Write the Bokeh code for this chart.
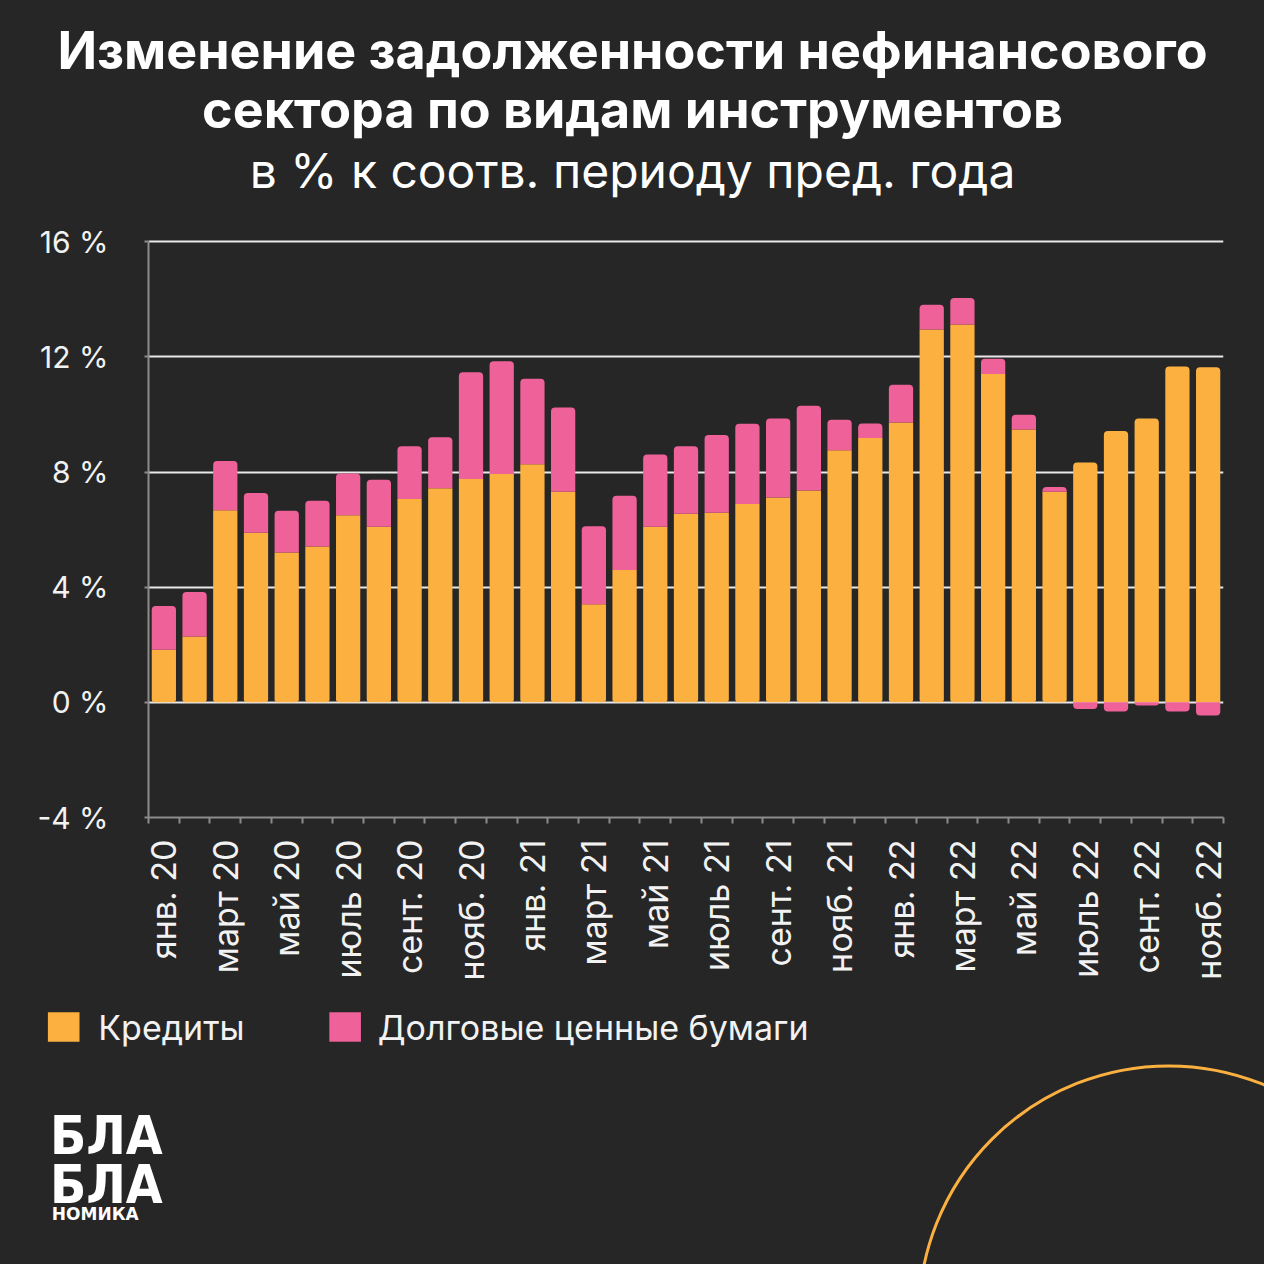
import math
from bokeh.plotting import figure
from bokeh.models import ColumnDataSource, FixedTicker, Range1d
from bokeh.layouts import column
from bokeh.embed import file_html
from bokeh.resources import INLINE
from bokeh.core.properties import value

# ---------------- data ----------------
months = ["янв. 20", "февр. 20", "март 20", "апр. 20", "май 20", "июнь 20",
          "июль 20", "авг. 20", "сент. 20", "окт. 20", "нояб. 20", "дек. 20",
          "янв. 21", "февр. 21", "март 21", "апр. 21", "май 21", "июнь 21",
          "июль 21", "авг. 21", "сент. 21", "окт. 21", "нояб. 21", "дек. 21",
          "янв. 22", "февр. 22", "март 22", "апр. 22", "май 22", "июнь 22",
          "июль 22", "авг. 22", "сент. 22", "окт. 22", "нояб. 22"]
credit = [1.83, 2.29, 6.67, 5.89, 5.21, 5.41, 6.50, 6.10, 7.06, 7.44,
          7.76, 7.93, 8.27, 7.32, 3.41, 4.60, 6.10, 6.55, 6.59, 6.89,
          7.12, 7.36, 8.76, 9.18, 9.72, 12.95, 13.13, 11.41, 9.48, 7.32,
          8.33, 9.43, 9.86, 11.67, 11.64]
debt = [1.52, 1.54, 1.71, 1.38, 1.45, 1.59, 1.45, 1.63, 1.84, 1.77,
        3.71, 3.92, 2.97, 2.92, 2.71, 2.58, 2.51, 2.35, 2.70, 2.79,
        2.74, 2.94, 1.06, 0.51, 1.31, 0.86, 0.92, 0.53, 0.51, 0.16,
        -0.23, -0.32, -0.11, -0.32, -0.46]
y_ticks = [-4, 0, 4, 8, 12, 16]
y_tick_labels = ["-4 %", "0 %", "4 %", "8 %", "12 %", "16 %"]
title_lines = ["Изменение задолженности нефинансового",
               "сектора по видам инструментов",
               "в % к соотв. периоду пред. года"]
legend_labels = ["Кредиты", "Долговые ценные бумаги"]
logo_lines = ["БЛА", "БЛА", "НОМИКА"]

# ---------------- style ----------------
BG = "#262626"
ORANGE = "#FBB040"
PINK = "#EF6199"
TXT = "#F2F2F2"
AXIS = "#8C8C8C"
FONT = "Inter"
W = 1264
S = W / 1280.0

Y_MIN, Y_MAX, Y_TOP_PAD = -4, 16, 0.6
PX_PER_UNIT = (827 - 244) / 20.0          # reference pixels per percent


def deco(y_top, y_bot):
    h = int(round(y_bot * S)) - int(round(y_top * S))
    f = figure(width=W, height=h, x_range=Range1d(0, 1280), y_range=Range1d(y_bot, y_top),
               output_backend="svg", toolbar_location=None, min_border=0,
               x_axis_location=None, y_axis_location=None, frame_align=False)
    f.grid.visible = False
    f.outline_line_color = None
    f.background_fill_color = BG
    f.border_fill_color = BG
    return f


# ---------------- title ----------------
TOP_END = 218
top = deco(0, TOP_END)
top.text(x=[640, 640], y=[51, 111], text=title_lines[:2], text_align="center",
         text_baseline="middle", text_font=value(FONT), text_font_style="bold",
         text_font_size="52px", text_color="white")
top.text(x=[640], y=[172], text=[title_lines[2]], text_align="center", text_baseline="middle",
         text_font=value(FONT), text_font_style="normal", text_font_size="48px", text_color="white")

# ---------------- main chart ----------------
n = len(months)
xs = list(range(n))
pos_idx = [i for i in xs if debt[i] >= 0]
neg_idx = [i for i in xs if debt[i] < 0]

src_pos = ColumnDataSource(dict(
    x=[xs[i] for i in pos_idx],
    c=[credit[i] for i in pos_idx],
    zero=[0] * len(pos_idx),
    dtop=[credit[i] + debt[i] for i in pos_idx],
))
src_neg = ColumnDataSource(dict(
    x=[xs[i] for i in neg_idx],
    c=[credit[i] for i in neg_idx],
    zero=[0] * len(neg_idx),
    d=[debt[i] for i in neg_idx],
))

MAIN_END = 1000
frame_top_ref = 244 - Y_TOP_PAD * PX_PER_UNIT
main_h = int(round(MAIN_END * S)) - int(round(TOP_END * S))
frame_top = int(round(frame_top_ref * S)) - int(round(TOP_END * S))
frame_bot = int(round(MAIN_END * S)) - int(round(827 * S))
p = figure(width=W, height=main_h, x_range=Range1d(-0.5, n - 0.5),
           y_range=Range1d(Y_MIN, Y_MAX + Y_TOP_PAD),
           output_backend="svg", toolbar_location=None, frame_align=False,
           min_border_left=int(round(150 * S)), min_border_right=W - int(round(1238 * S)),
           min_border_top=frame_top, min_border_bottom=frame_bot)
p.background_fill_color = BG
p.border_fill_color = BG
p.outline_line_color = None

BW = 0.79
R = 4
p.vbar(x="x", bottom="zero", top="c", width=BW, source=src_pos, fill_color=ORANGE,
       line_color=None, border_radius=(0, 0, 3, 3))
p.vbar(x="x", bottom="c", top="dtop", width=BW, source=src_pos, fill_color=PINK,
       line_color=None, border_radius=(R, R, 0, 0))
p.vbar(x="x", bottom="zero", top="c", width=BW, source=src_neg, fill_color=ORANGE,
       line_color=None, border_radius=(R, R, 0, 0))
p.vbar(x="x", bottom="d", top="zero", width=BW, source=src_neg, fill_color=PINK,
       line_color=None, border_radius=(0, 0, R, R))

# grid
p.xgrid.visible = False
p.ygrid.ticker = FixedTicker(ticks=[t for t in y_ticks if t > Y_MIN])
p.ygrid.grid_line_color = "#E8E8E8"
p.ygrid.grid_line_width = 2

# y axis
p.yaxis.ticker = FixedTicker(ticks=y_ticks)
p.yaxis.bounds = (Y_MIN, Y_MAX)
p.yaxis.major_label_overrides = {t: lab for t, lab in zip(y_ticks, y_tick_labels)}
p.yaxis.axis_line_color = AXIS
p.yaxis.axis_line_width = 2
p.yaxis.major_tick_line_color = AXIS
p.yaxis.major_tick_line_width = 2
p.yaxis.major_tick_out = 4
p.yaxis.major_tick_in = 0
p.yaxis.minor_tick_line_color = None
p.yaxis.major_label_text_color = TXT
p.yaxis.major_label_text_font = FONT
p.yaxis.major_label_text_font_size = "30px"
p.yaxis.major_label_standoff = 36

# x axis
label_ticks = xs[::2]
p.xaxis.ticker = FixedTicker(ticks=label_ticks, minor_ticks=[i - 0.5 for i in range(n + 1)])
p.xaxis.major_label_overrides = {i: months[i] for i in label_ticks}
p.xaxis.major_label_orientation = math.pi / 2
p.xaxis.axis_line_color = AXIS
p.xaxis.axis_line_width = 2
p.xaxis.major_tick_line_color = None
p.xaxis.major_tick_out = 0
p.xaxis.major_tick_in = 0
p.xaxis.minor_tick_line_color = AXIS
p.xaxis.minor_tick_line_width = 2
p.xaxis.minor_tick_out = 6
p.xaxis.minor_tick_in = 0
p.xaxis.major_label_text_color = TXT
p.xaxis.major_label_text_font = FONT
p.xaxis.major_label_text_font_size = "34px"
p.xaxis.major_label_standoff = 16

# ---------------- bottom: legend, logo, arc ----------------
bot = deco(MAIN_END, 1280)
bot.rect(x=[64, 349], y=[1039, 1039], width=32, height=30, fill_color=[ORANGE, PINK], line_color=None)
bot.text(x=[99, 382], y=[1040, 1040], text=legend_labels, text_align="left", text_baseline="middle",
         text_font=value(FONT), text_font_size="34px", text_color=TXT)
bot.text(x=[50, 50], y=[1149, 1199], text=logo_lines[:2], text_align="left", text_baseline="middle",
         text_font=value("DejaVu Sans Condensed"), text_font_style="bold", text_font_size="53px",
         text_color="white")
bot.text(x=[52], y=[1229], text=[logo_lines[2]], text_align="left", text_baseline="middle",
         text_font=value("DejaVu Sans"), text_font_style="bold", text_font_size="17px", text_color="white")
bot.circle(x=[1183], y=[1332], radius=253, fill_color=None, line_color=ORANGE, line_width=3)

layout = column(top, p, bot, spacing=0)
layout.styles = {"background-color": BG}

open("out.html", "w").write(file_html(layout, INLINE))
